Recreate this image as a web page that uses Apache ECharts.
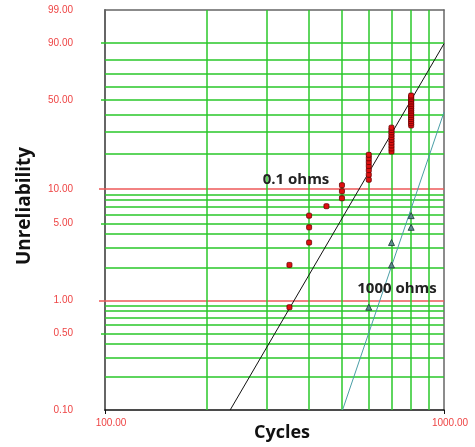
<!DOCTYPE html>
<html>
<head>
<meta charset="utf-8">
<script src="https://cdn.jsdelivr.net/npm/echarts@6/dist/echarts.min.js"></script>
<style>
html,body{margin:0;padding:0;background:#fff;}
#c{width:475px;height:447px;}
</style>
</head>
<body>
<div id="c"></div>
<script>
// ---- data (unreliability in %, cycles) ----
const ohm01Cycles = [350,350,400,400,400,450,500,500,500,
  600,600,600,600,600,600,600,
  700,700,700,700,700,700,700,700,700,700,
  800,800,800,800,800,800,800,800,800,800,800,800,800,800,800,800,800];
const ohm01Unrel = [0.87,2.11,3.36,4.60,5.85,7.09,8.33,9.58,10.82,
  12.06,13.31,14.55,15.80,17.04,18.28,19.53,
  20.77,22.01,23.26,24.50,25.75,26.99,28.23,29.48,30.72,31.97,
  33.21,34.45,35.70,36.94,38.18,39.43,40.67,41.92,43.16,44.40,45.65,46.89,48.13,49.38,50.62,51.87,53.11];
const ohm1000Cycles = [600,700,700,800,800];
const ohm1000Unrel = [0.87,2.11,3.36,4.60,5.85];
const fit01Cycles = [234,1000];
const fit01Unrel = [0.10,89.6];
const fit1000Cycles = [502,1000];
const fit1000Unrel = [0.10,41.4];
const yLabelValues = [0.10,0.50,1.00,5.00,10.00,50.00,90.00,99.00];
const greenGridY = [0.2,0.3,0.4,0.5,0.6,0.7,0.8,0.9,2,3,4,5,6,7,8,9,20,30,40,50,60,70,80,90];
const redGridY = [1,10];
const gridX = [200,300,400,500,600,700,800,900];
const xRange = [100,1000];
const yRange = [0.10,99.00];

// Weibull probability transform
const W = p => Math.log(-Math.log(1 - p/100));
const invW = w => 100*(1 - Math.exp(-Math.exp(w)));
const pairs = (xs, ys) => xs.map((x,i) => [x, W(ys[i])]);

const GREEN = '#2ac82a', RED = '#ee5a5a', LBL = '#ee4444';
const GW = 1.5;
const PLOT_W = 475 - 105 - 31;
const yBase = {type:'value', min:W(yRange[0]), max:W(yRange[1]), splitLine:{show:false}};

const chart = echarts.init(document.getElementById('c'), null, {renderer:'canvas'});
chart.setOption({
  animation:false,
  backgroundColor:'#fff',
  grid:{left:105, right:31, top:10, bottom:37, containLabel:false},
  xAxis:[{
    type:'log', logBase:10, min:xRange[0], max:xRange[1],
    axisLine:{onZero:false, lineStyle:{color:'#111', width:1.5}},
    axisTick:{show:true, length:4, lineStyle:{color:'#111'}},
    minorTick:{show:false},
    splitLine:{show:false},
    axisLabel:{color:LBL, fontFamily:'Liberation Sans', fontSize:10, margin:8,
      padding:[0,0,0,12], formatter:v => Number(v).toFixed(2)}
  },{
    type:'log', logBase:10, min:xRange[0], max:xRange[1], position:'top',
    axisLine:{onZero:false, lineStyle:{color:'#666', width:1.5}}, axisTick:{show:false},
    axisLabel:{show:false}, splitLine:{show:false}
  }],
  yAxis:[
    Object.assign({}, yBase, {
      position:'left',
      axisLine:{show:false},
      axisTick:{show:true, inside:true, length:PLOT_W, customValues:greenGridY.map(W), lineStyle:{color:GREEN, width:GW}},
      axisLabel:{show:false}
    }),
    Object.assign({}, yBase, {
      position:'left',
      axisLine:{show:false},
      axisTick:{show:true, inside:true, length:PLOT_W, customValues:redGridY.map(W), lineStyle:{color:RED, width:GW}},
      axisLabel:{show:false}
    }),
    Object.assign({}, yBase, {
      position:'left',
      axisLine:{show:false},
      axisTick:{show:true, length:6, customValues:redGridY.map(W), lineStyle:{color:RED, width:GW}},
      axisLabel:{show:false}
    }),
    Object.assign({}, yBase, {
      position:'left',
      axisLine:{show:true, onZero:false, lineStyle:{color:'#666', width:2}},
      axisTick:{show:true, length:4, customValues:[0.5,5,50,90].map(W), lineStyle:{color:GREEN, width:GW}},
      axisLabel:{color:LBL, fontFamily:'Liberation Sans', fontSize:10, margin:32,
        customValues:yLabelValues.map(W), formatter:v => invW(v).toFixed(2)}
    }),
    Object.assign({}, yBase, {
      position:'right',
      axisLine:{show:true, onZero:false, lineStyle:{color:'#666', width:1.5}},
      axisTick:{show:false}, axisLabel:{show:false}
    })
  ],
  series:[
    {
      type:'line', data:[], z:1, silent:true,
      markLine:{
        z:1, silent:true, symbol:'none', animation:false,
        label:{show:false},
        lineStyle:{color:GREEN, width:GW, type:'solid', opacity:1},
        data: gridX.map(v => ({xAxis:v}))
      }
    },
    {
      name:'0.1 ohms fit', type:'line', z:8, symbol:'none', silent:true,
      data:pairs(fit01Cycles, fit01Unrel),
      lineStyle:{color:'#111', width:1}
    },
    {
      name:'1000 ohms fit', type:'line', z:8, symbol:'none', silent:true,
      data:pairs(fit1000Cycles, fit1000Unrel),
      lineStyle:{color:'#4a9ea6', width:1}
    },
    {
      name:'0.1 ohms', type:'scatter', z:10, symbol:'roundRect', symbolSize:5,
      data:pairs(ohm01Cycles, ohm01Unrel),
      itemStyle:{color:'#e01010', borderColor:'#600', borderWidth:0.8, opacity:1}
    },
    {
      name:'1000 ohms', type:'scatter', z:10, symbol:'triangle', symbolSize:6,
      data:pairs(ohm1000Cycles, ohm1000Unrel),
      itemStyle:{color:'#5a8c8c', borderColor:'#1a3636', borderWidth:0.8, opacity:1}
    }
  ],
  graphic:[
    {type:'text', x:282, y:433, style:{text:'Cycles', font:'bold 18px "Open Sans"', fill:'#111', align:'center', verticalAlign:'middle'}},
    {type:'text', x:25, y:206, rotation:Math.PI/2, style:{text:'Unreliability', font:'bold 19px "Open Sans"', fill:'#111', align:'center', verticalAlign:'middle'}},
    {type:'text', x:296, y:180, z:20, style:{text:'0.1 ohms', font:'bold 15px "Open Sans"', fill:'#222', align:'center', verticalAlign:'middle'}},
    {type:'text', x:397, y:289, z:20, style:{text:'1000 ohms', font:'bold 15px "Open Sans"', fill:'#222', align:'center', verticalAlign:'middle'}}
  ]
});
</script>
</body>
</html>
